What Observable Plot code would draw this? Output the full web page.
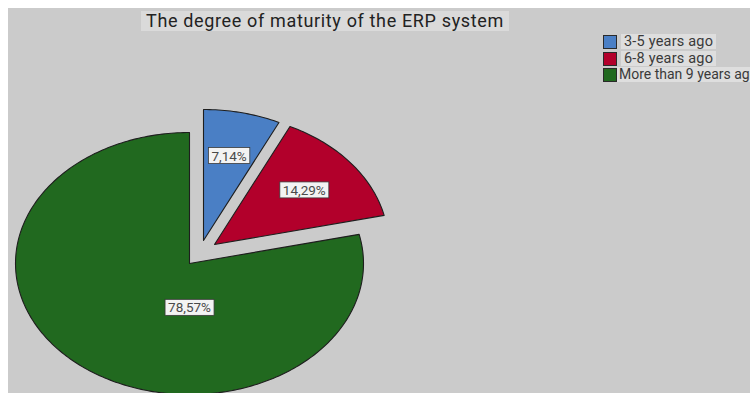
<!DOCTYPE html>
<html>
<head>
<meta charset="utf-8">
<script src="https://cdn.jsdelivr.net/npm/d3@7"></script>
<script src="https://cdn.jsdelivr.net/npm/@observablehq/plot@0.6"></script>
<style>
  html, body { margin: 0; padding: 0; background: #ffffff; }
  #wrap { position: relative; width: 750px; height: 393px; overflow: hidden; background: #ffffff; }
  #panel { position: absolute; left: 8px; top: 8px; width: 742px; height: 385px; background: #cbcbcb; overflow: hidden; }
  #title { position: absolute; left: 133px; top: 3px; padding: 0 5px; height: 20px; line-height: 20px;
           background: #dadada; font-family: Roboto, sans-serif; font-size: 18px; letter-spacing: 0.65px; color: #222; white-space: nowrap; }
  #legend { position: absolute; left: 595px; top: 27px; font-family: Roboto, sans-serif; font-size: 14.5px; letter-spacing: 0.2px; color: #3a3a3a; }
  .row { position: relative; height: 16.5px; white-space: nowrap; }
  .sw { position: absolute; left: 0; top: 0; width: 12px; height: 12px; border: 1px solid #2a2a2a; }
  .lt { position: absolute; left: 18px; top: -1px; line-height: 15px; padding: 0 3px; background: #dedede; }
  .row:last-child .lt { left: 14px; padding: 0 2px; font-size: 14px; letter-spacing: 0; }
  svg { display: block; }
</style>
</head>
<body>
<div id="wrap"><div id="panel"><div id="title"></div><div id="legend"></div></div></div>
<script>
// ---- data ----
const title = "The degree of maturity of the ERP system";
const categories = ["3-5 years ago", "6-8 years ago", "More than 9 years ago"];
const percents = [7.14, 14.29, 78.57];
const labels = ["7,14%", "14,29%", "78,57%"];
const colors = ["#4a7fc5", "#b2002b", "#21691f"];

// ---- style (explode offsets in px, label placement) ----
const explode = [[14, -23], [25, -19], [0, 0]];
const labelPlace = [{r: 0.66}, {r: 0.66}, {r: 0.34, angle: Math.PI}];

const arcs = d3.pie().sort(null).value(d => d)(percents);

function slicePoints(a) {
  const pts = [{x: 0, y: 0}];
  const n = Math.max(2, Math.ceil((a.endAngle - a.startAngle) / (Math.PI / 180)));
  for (let i = 0; i <= n; i++) {
    const t = a.startAngle + (a.endAngle - a.startAngle) * i / n;
    pts.push({x: Math.sin(t), y: Math.cos(t)});
  }
  return pts;
}

const order = [2, 0, 1];
const marks = [];
for (const i of order) {
  marks.push(Plot.line(slicePoints(arcs[i]), {
    x: "x", y: "y", curve: "linear-closed",
    fill: colors[i], stroke: "#1e1e1e", strokeWidth: 1.1,
    dx: explode[i][0], dy: explode[i][1]
  }));
}
for (const i of order) {
  const a = arcs[i];
  const ang = labelPlace[i].angle ?? (a.startAngle + a.endAngle) / 2;
  const r = labelPlace[i].r;
  marks.push(Plot.text([{x: r * Math.sin(ang), y: r * Math.cos(ang), t: labels[i]}], {
    x: "x", y: "y", text: "t", dx: explode[i][0], dy: explode[i][1],
    fontSize: 13.5, fill: "#4a4a4a", fontFamily: "Roboto, sans-serif",
    className: "boxed"
  }));
}

const chart = Plot.plot({
  width: 742, height: 385,
  margin: 0,
  style: {background: "transparent", overflow: "visible"},
  x: {domain: [-1, 1], range: [7, 355], axis: null},
  y: {domain: [-1, 1], range: [386, 124], axis: null},
  marks
});
document.getElementById("panel").append(chart);

// label boxes
chart.querySelectorAll("text").forEach(t => {
  if (!t.closest(".boxed")) return;
  const b = t.getBBox();
  const rect = document.createElementNS("http://www.w3.org/2000/svg", "rect");
  rect.setAttribute("x", b.x - 3);
  rect.setAttribute("y", b.y);
  rect.setAttribute("width", b.width + 6);
  rect.setAttribute("height", b.height);
  rect.setAttribute("fill", "#f3f3f3");
  rect.setAttribute("stroke", "#3a3a3a");
  rect.setAttribute("stroke-width", 0.8);
  if (t.getAttribute("transform")) rect.setAttribute("transform", t.getAttribute("transform"));
  t.parentNode.insertBefore(rect, t);
});

document.getElementById("title").textContent = title;
const legend = document.getElementById("legend");
categories.forEach((c, i) => {
  const row = document.createElement("div");
  row.className = "row";
  row.innerHTML = `<span class="sw" style="background:${colors[i]}"></span><span class="lt">${c}</span>`;
  legend.append(row);
});
</script>
</body>
</html>
